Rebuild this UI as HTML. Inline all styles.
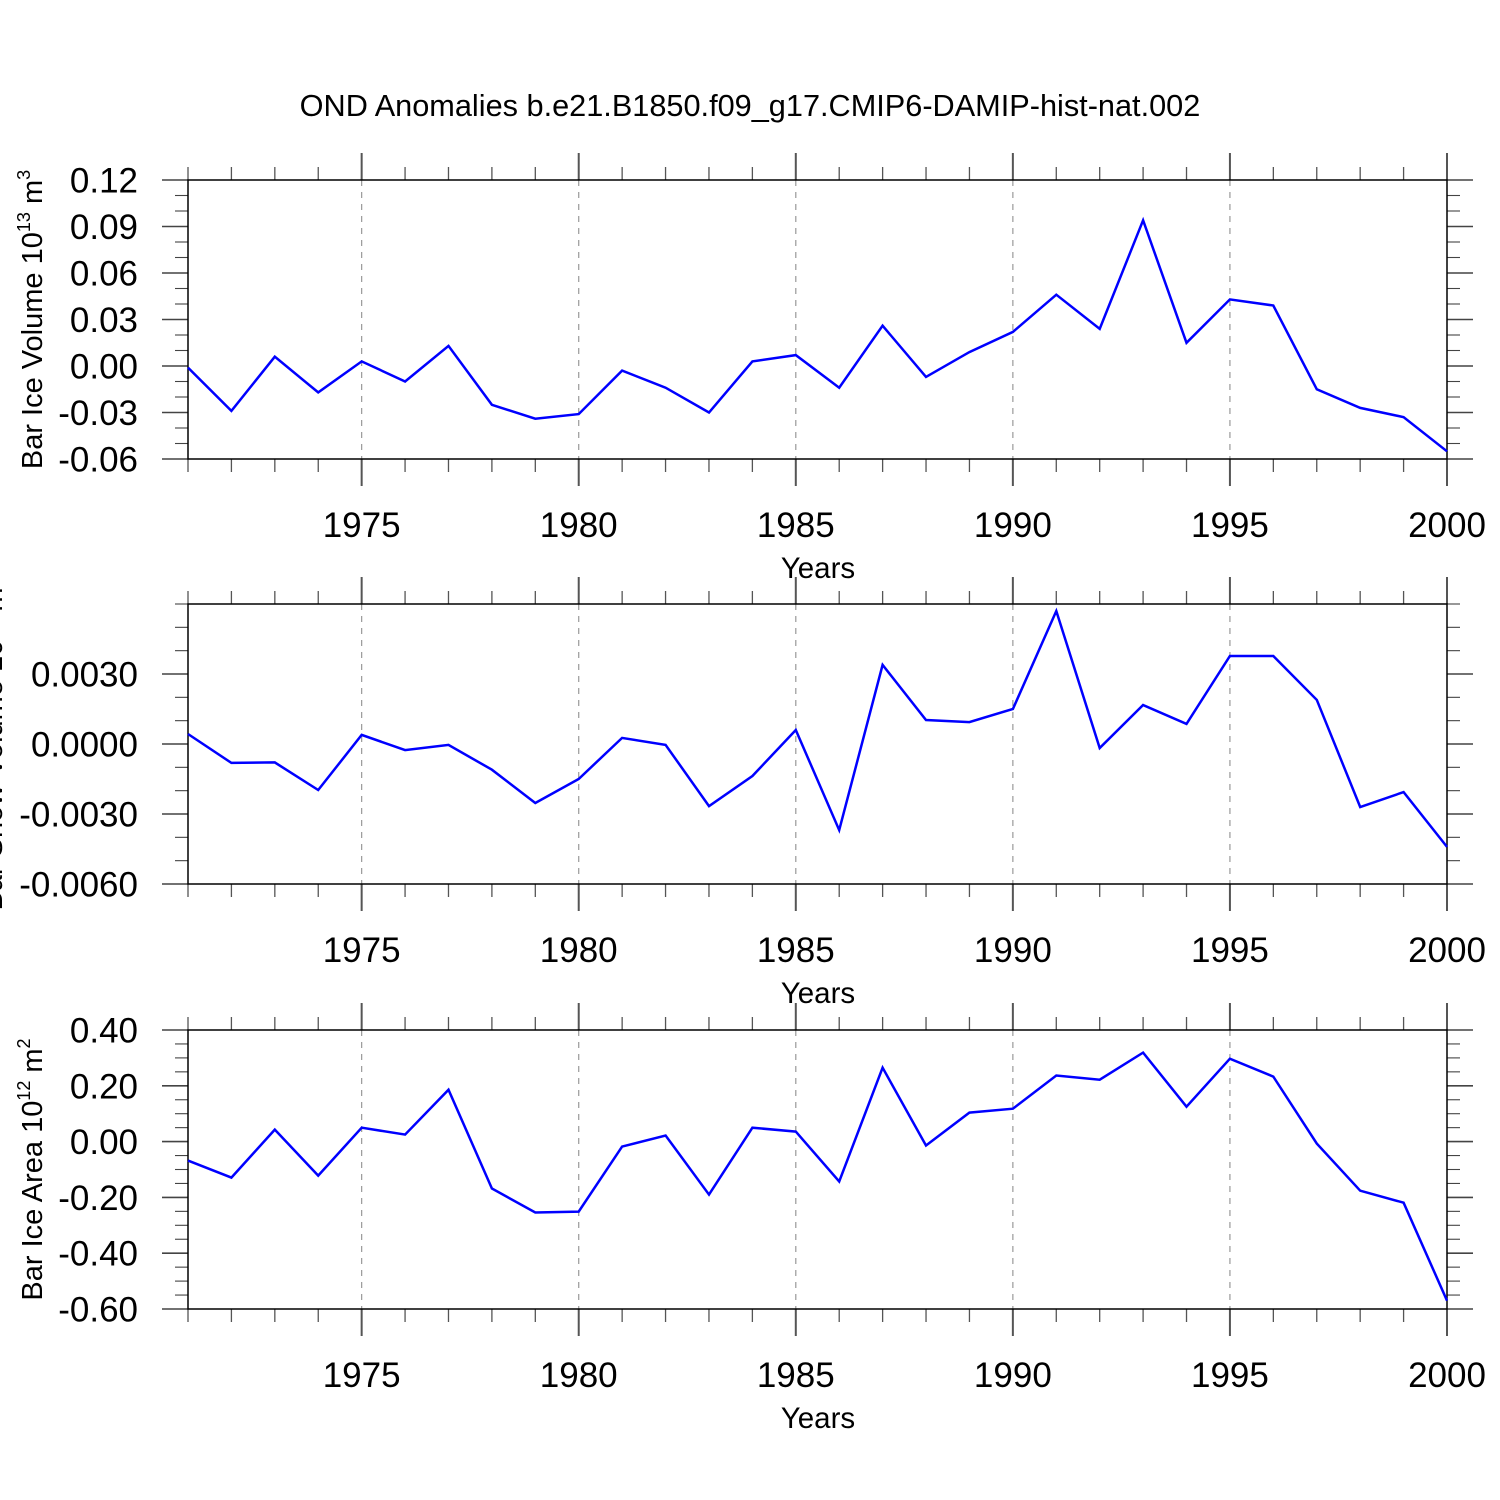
<!DOCTYPE html>
<html><head><meta charset="utf-8"><style>
html,body{margin:0;padding:0;background:#fff;}
svg{display:block;font-family:"Liberation Sans",Arial,sans-serif;}
</style></head><body>
<svg id="chart" width="1500" height="1500" viewBox="0 0 1500 1500">
<text x="750" y="116" font-size="30.7" text-anchor="middle">OND Anomalies b.e21.B1850.f09_g17.CMIP6-DAMIP-hist-nat.002</text>
</svg>
<script>
const years = [1971,1972,1973,1974,1975,1976,1977,1978,1979,1980,1981,1982,1983,1984,1985,1986,1987,1988,1989,1990,1991,1992,1993,1994,1995,1996,1997,1998,1999,2000];
const iceVolume = [-0.001,-0.029,0.006,-0.017,0.003,-0.010,0.013,-0.025,-0.034,-0.031,-0.003,-0.014,-0.030,0.003,0.007,-0.014,0.026,-0.007,0.009,0.022,0.046,0.024,0.094,0.015,0.043,0.039,-0.015,-0.027,-0.033,-0.055];
const snowVolume = [0.00043,-0.00081,-0.00079,-0.00197,0.00039,-0.00026,-0.00004,-0.0011,-0.00253,-0.0015,0.00026,-0.00004,-0.00266,-0.00137,0.0006,-0.00369,0.00339,0.00103,0.00094,0.0015,0.0057,-0.00017,0.00167,0.00086,0.00377,0.00377,0.00189,-0.0027,-0.00206,-0.00441];
const iceArea = [-0.068,-0.129,0.043,-0.122,0.050,0.025,0.186,-0.168,-0.254,-0.251,-0.018,0.022,-0.190,0.050,0.036,-0.143,0.265,-0.014,0.104,0.118,0.237,0.222,0.319,0.125,0.297,0.233,-0.007,-0.176,-0.219,-0.570];
const xTickLabels = [1975,1980,1985,1990,1995,2000];
const ticks1 = ["0.12","0.09","0.06","0.03","0.00","-0.03","-0.06"];
const ticks2 = ["0.0030","0.0000","-0.0030","-0.0060"];
const ticks3 = ["0.40","0.20","0.00","-0.20","-0.40","-0.60"];

const NS="http://www.w3.org/2000/svg";
const svg=document.getElementById('chart');
function el(tag,attrs,parent){const e=document.createElementNS(NS,tag);for(const k in attrs)e.setAttribute(k,attrs[k]);(parent||svg).appendChild(e);return e;}
const X0=188,X1=1447,XMIN=1971,XMAX=2000;
function xs(v){return X0+(v-XMIN)/(XMAX-XMIN)*(X1-X0);}

function panel(name,top,bot,ymin,ymax,majors,minorStep,labels,data,ylabelParts,ylx){
  const g=el('g',{});
  
  
  const ys=v=>bot-(v-ymin)/(ymax-ymin)*(bot-top);
  xTickLabels.slice(0,-1).forEach(yr=>{
    const l=el('line',{x1:xs(yr),x2:xs(yr),y1:top,y2:bot,stroke:'#999','stroke-width':1.2,'stroke-dasharray':'6,6'},g);
    
    
  });
  for(let yr=XMIN;yr<=XMAX;yr++){
    const major=yr%5===0, len=major?27:13, x=xs(yr);
    el('line',{x1:x,x2:x,y1:top-len,y2:top,stroke:'#555','stroke-width':major?2:1.3},g);
    el('line',{x1:x,x2:x,y1:bot,y2:bot+len,stroke:'#555','stroke-width':major?2:1.3},g);
  }
  const nMin=Math.round((ymax-ymin)/minorStep);
  for(let i=0;i<=nMin;i++){
    const v=ymin+i*minorStep, y=ys(v);
    const isMaj=majors.some(m=>Math.abs(m-v)<minorStep/10);
    const len=isMaj?26:13;
    el('line',{x1:X0-len,x2:X0,y1:y,y2:y,stroke:'#444','stroke-width':isMaj?1.6:1.1},g);
    el('line',{x1:X1,x2:X1+len,y1:y,y2:y,stroke:'#444','stroke-width':isMaj?1.6:1.1},g);
  }
  majors.forEach((m,i)=>{
    const t=el('text',{x:138,y:ys(m)+12.5,'font-size':35,'text-anchor':'end'},g);
    t.textContent=labels[i];
    
    
  });
  const r=el('rect',{x:X0,y:top,width:X1-X0,height:bot-top,fill:'none',stroke:'#000','stroke-width':1.5},g);
  
  
  xTickLabels.forEach(yr=>{
    const t=el('text',{x:xs(yr),y:bot+78,'font-size':35,'text-anchor':'middle'},g);
    t.textContent=yr;
    
    
  });
  const xt=el('text',{x:818,y:bot+119,'font-size':29.5,'text-anchor':'middle'},g);
  xt.textContent='Years';
  
  
  const cy=(top+bot)/2;
  const yt=el('text',{x:ylx,y:cy,'font-size':29,'text-anchor':'middle',transform:`rotate(-90 ${ylx} ${cy})`},g);
  
  
  const a=document.createElementNS(NS,'tspan');a.textContent=ylabelParts[0];yt.appendChild(a);
  const b=document.createElementNS(NS,'tspan');b.setAttribute('font-size','18');b.setAttribute('dy','-12');b.textContent=ylabelParts[1];yt.appendChild(b);
  const c=document.createElementNS(NS,'tspan');c.setAttribute('dy','12');c.textContent=' m';yt.appendChild(c);
  const d=document.createElementNS(NS,'tspan');d.setAttribute('font-size','18');d.setAttribute('dy','-12');d.textContent=ylabelParts[2];yt.appendChild(d);
  const pts=data.map((v,i)=>xs(years[i]).toFixed(1)+','+ys(v).toFixed(1)).join(' ');
  const pl=el('polyline',{points:pts,fill:'none',stroke:'#0000ff','stroke-width':2.5,'stroke-linejoin':'miter'},g);
  
  
}
panel('ice-volume',180,459,-0.06,0.12,[0.12,0.09,0.06,0.03,0,-0.03,-0.06],0.01,ticks1,iceVolume,['Bar Ice Volume 10','13','3'],42);
panel('snow-volume',604,884,-0.006,0.006,[0.003,0,-0.003,-0.006],0.001,ticks2,snowVolume,['Bar Snow Volume 10','13','3'],2);
panel('ice-area',1030,1309,-0.6,0.4,[0.4,0.2,0,-0.2,-0.4,-0.6],0.05,ticks3,iceArea,['Bar Ice Area 10','12','2'],42);
</script>
</body></html>
